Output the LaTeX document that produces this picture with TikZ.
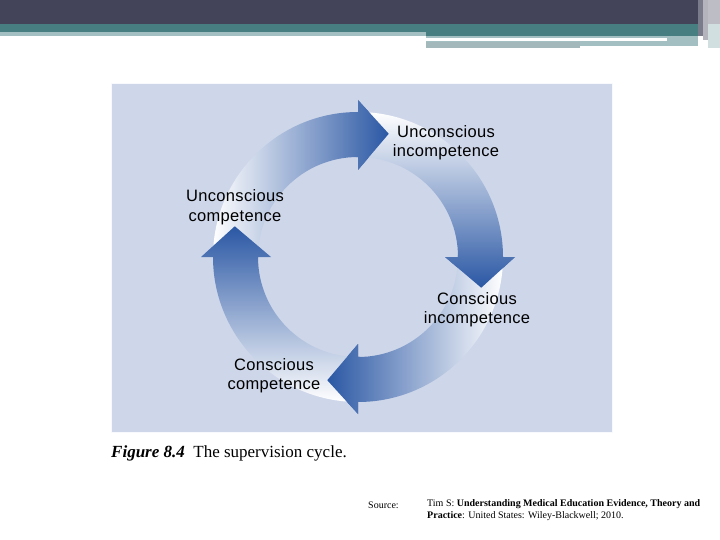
\documentclass[tikz,border=0pt]{standalone}
\usepackage{fontspec}
\setmainfont{Liberation Serif}
\newfontfamily\labfont[LetterSpace=2]{Liberation Sans}
\definecolor{hdark}{HTML}{43445A}
\definecolor{hteal}{HTML}{467E82}
\definecolor{hlight}{HTML}{A4BFC2}
\definecolor{hgrey}{HTML}{A2B8BA}
\definecolor{boxbg}{HTML}{CED6E9}
\definecolor{arrowblue}{HTML}{2A57A4}
\colorlet{arrowmid}{arrowblue!58!white}
\tikzset{
  lab/.style={font=\labfont\fontsize{16.5}{19.5}\selectfont, align=center, text=black, inner sep=0pt},
}
\newcommand{\cycarrow}[3]{% #1 base angle, #2 tail angle, #3 shading options
  \path[#3] (#2:145) arc[start angle=#2, end angle=#1, radius=145]
     -- (#1:157) -- ({#1-14}:127) -- (#1:87) -- (#1:100)
     arc[start angle=#1, end angle=#2, radius=100] -- cycle;}
\newcommand{\headclip}[1]{\clip (0,0) -- ({#1+1}:175) arc[start angle={#1+1}, end angle={#1-18}, radius=175] -- cycle;}
\begin{document}
\begin{tikzpicture}[x=1pt,y=-1pt]
\useasboundingbox (0,0) rectangle (720,540);
\fill[white] (0,0) rectangle (720,540);
% header
\fill[hdark] (0,0) rectangle (720,24);
\fill[hteal] (0,24) rectangle (720,32);
\fill[hlight] (0,32) rectangle (426,36);
\fill[hteal] (426,32) rectangle (698,36);
\fill[hlight] (426,36) rectangle (698,46);
\fill[white] (426,38.5) rectangle (667,41.5);
\fill[hgrey] (426,42) rectangle (580,48);
\fill[hdark!70!white] (698,0) rectangle (703,36);
\fill[hdark!40!white] (703,0) rectangle (708,40);
\fill[hdark!35!white] (708,0) rectangle (720,24);
\fill[hteal!25!white] (708,24) rectangle (720,48);
% figure box
\node[draw=white!85!boxbg, line width=1pt, fill=boxbg, minimum width=501pt, minimum height=349pt, anchor=north west, inner sep=0pt] (box) at (111,83) {};
% cycle
\coordinate (C) at (358,257);
\begin{scope}[shift={(C)}, x=1pt, y=1pt]
  \cycarrow{90}{180}{left color=white, middle color=arrowmid, right color=arrowblue}
  \cycarrow{0}{90}{top color=white, middle color=arrowmid, bottom color=arrowblue}
  \cycarrow{270}{360}{right color=white, middle color=arrowmid, left color=arrowblue}
  \cycarrow{180}{270}{bottom color=white, middle color=arrowmid, top color=arrowblue}
  \begin{scope}\headclip{90}
    \cycarrow{90}{180}{left color=white, middle color=arrowmid, right color=arrowblue}
  \end{scope}
  \begin{scope}\headclip{0}
    \cycarrow{0}{90}{top color=white, middle color=arrowmid, bottom color=arrowblue}
  \end{scope}
  \begin{scope}\headclip{270}
    \cycarrow{270}{360}{right color=white, middle color=arrowmid, left color=arrowblue}
  \end{scope}
\end{scope}
% labels
\node[lab] (ui) at (446,142.5) {Unconscious\\incompetence};
\node[lab] (uc) at (235,207) {Unconscious\\competence};
\node[lab] (ci) at (477,309.5) {Conscious\\incompetence};
\node[lab] (cc) at (274,375.5) {Conscious\\competence};
% caption
\node[anchor=west, inner sep=0pt, font=\fontsize{17}{20}\selectfont] (cap) at (111,453) {\textbf{\textit{Figure 8.4}}\ \ The supervision cycle.};
% source
\node[anchor=west, inner sep=0pt, font=\fontsize{10}{12}\selectfont] (src) at (368,505) {Source:};
\node[anchor=north west, inner sep=0pt, align=left, font=\fontsize{10}{12}\selectfont] (ref) at (427,499.5) {Tim S: \textbf{Understanding Medical Education Evidence, Theory and}\\\textbf{Practice}: United States: Wiley-Blackwell; 2010.};
\end{tikzpicture}
\end{document}
